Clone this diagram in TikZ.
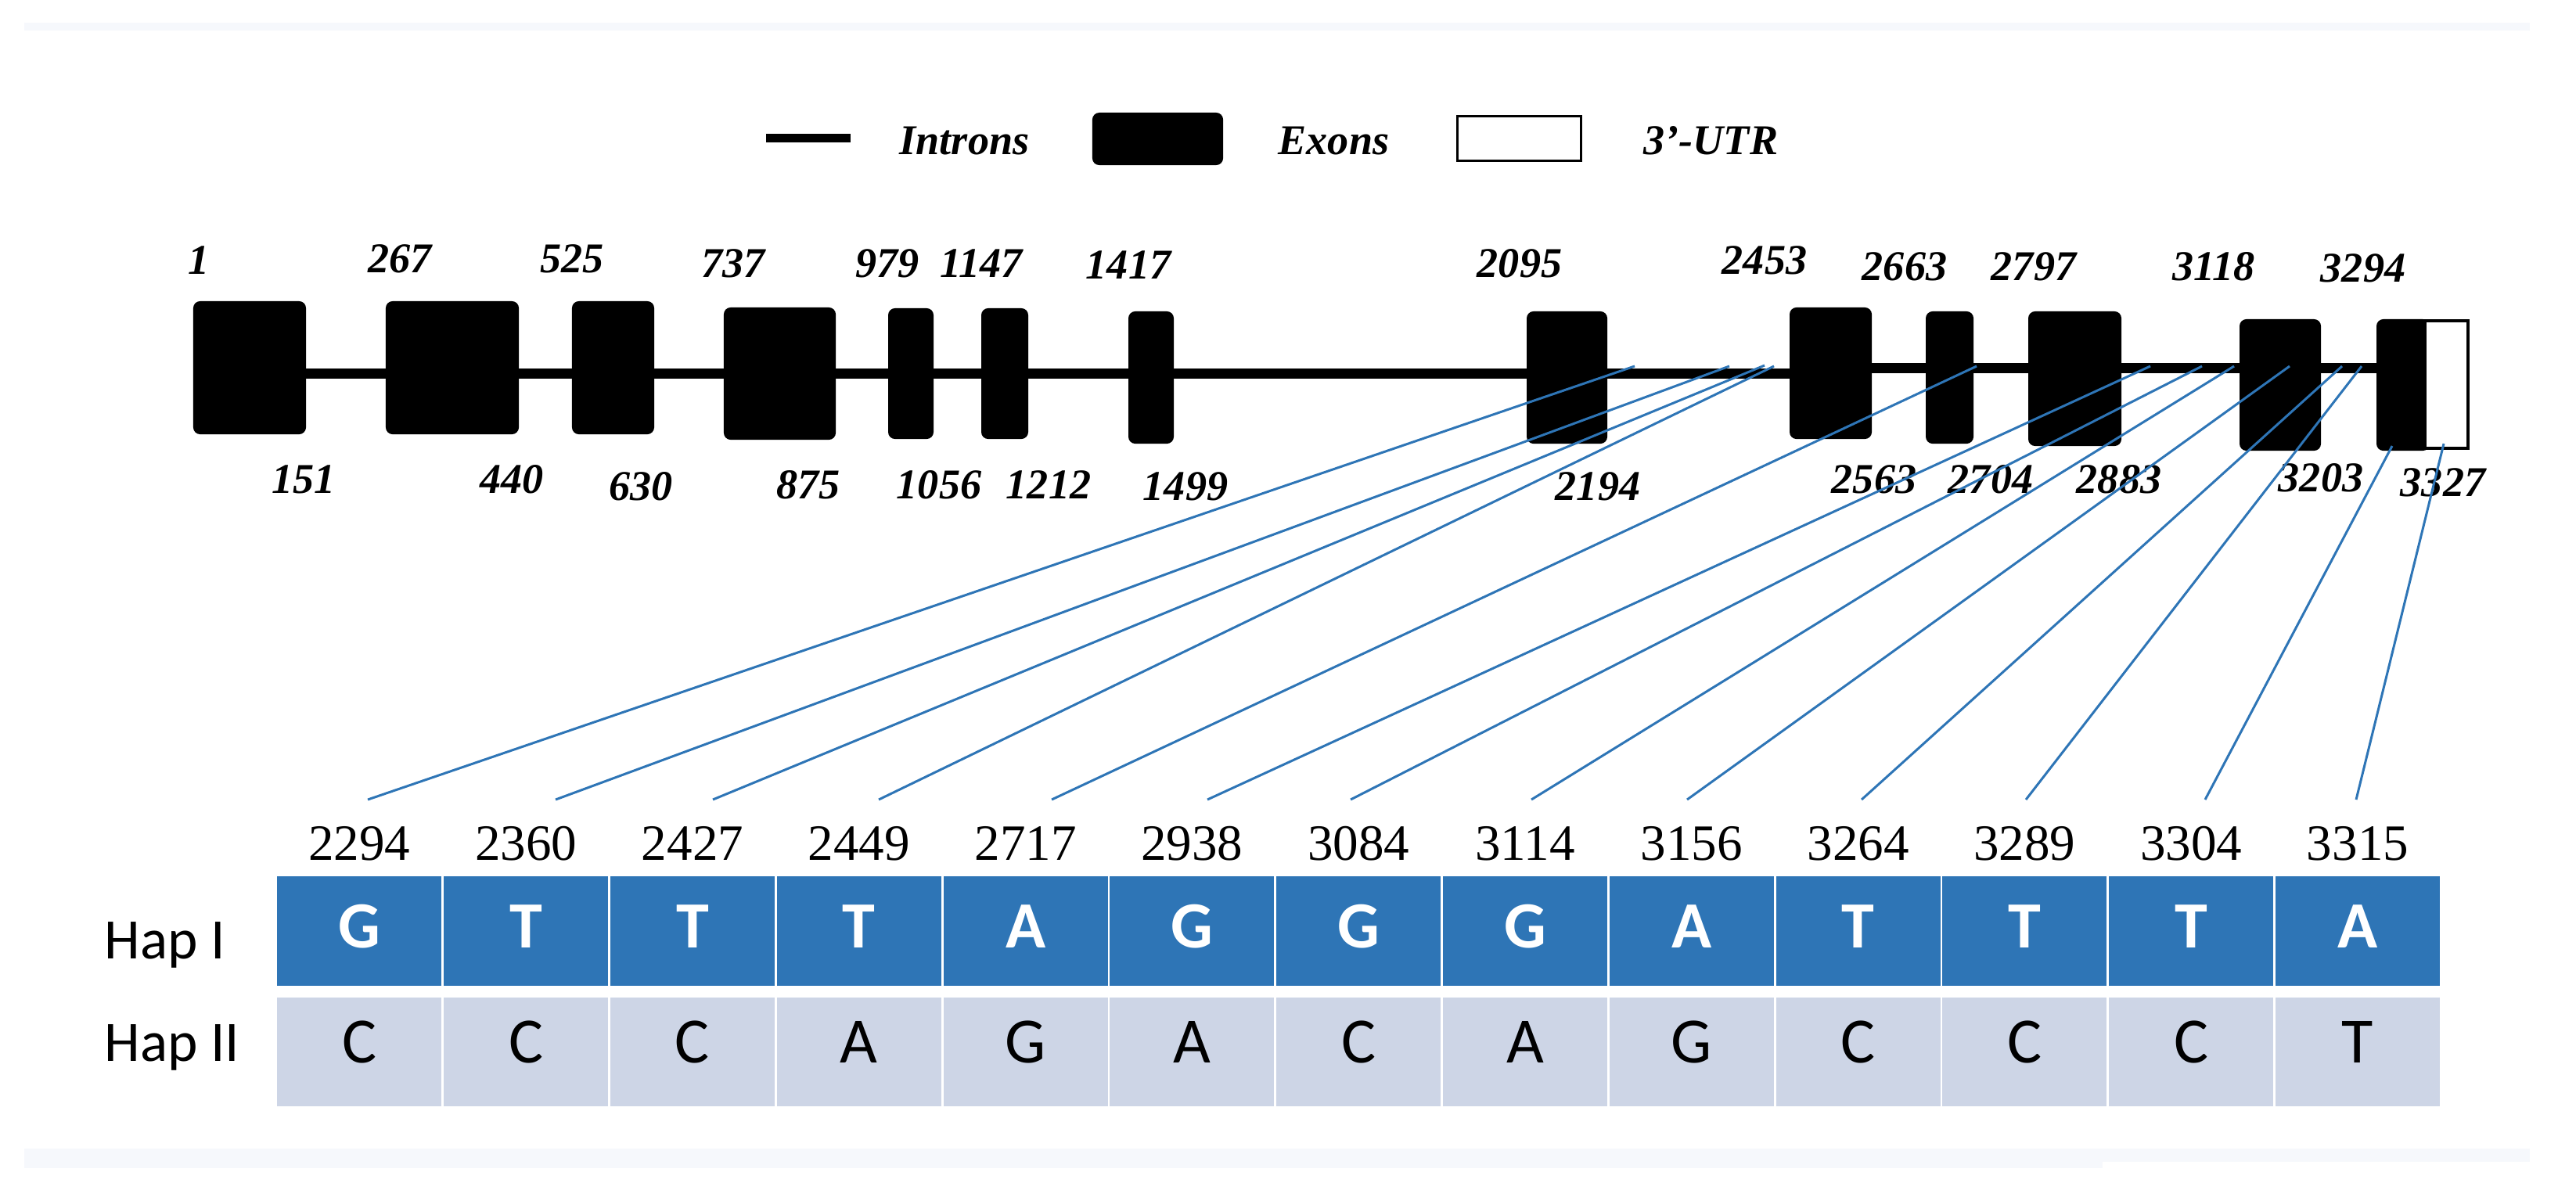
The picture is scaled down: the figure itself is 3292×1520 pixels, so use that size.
\documentclass[tikz,border=0pt]{standalone}
\usepackage{fontspec}
\setmainfont{Liberation Serif}
\newfontfamily\calib{Carlito}
\usetikzlibrary{backgrounds}
\definecolor{hapblue}{HTML}{2E75B6}
\definecolor{haplight}{HTML}{CDD5E6}
\definecolor{faintband}{HTML}{F6F8FC}
\begin{document}
\begin{tikzpicture}[x=0.01cm,y=-0.01cm,
  exonbox/.style={fill=black, draw=none, rounded corners=2.5pt, inner sep=0pt, outer sep=0pt},
  utrbox/.style={fill=white, draw=black, line width=0.045cm, inner sep=0pt},
  intron/.style={line width=0.13cm},
  glabel/.style={font=\fontsize{15.4}{18}\selectfont\bfseries\itshape, inner sep=0pt},
  poslabel/.style={font=\fontsize{18.5}{22}\selectfont, inner sep=0pt, anchor=base},
  haplabel/.style={font=\calib\fontsize{20.8}{24}\selectfont, inner sep=0pt, anchor=base west},
  cellA/.style={fill=hapblue, minimum width=2.098cm, minimum height=1.40cm, inner sep=0pt},
  cellB/.style={fill=haplight, minimum width=2.098cm, minimum height=1.39cm, inner sep=0pt},
  letterA/.style={text=white, font=\calib\bfseries\fontsize{24}{28}\selectfont, inner sep=0pt, anchor=base},
  letterB/.style={text=black, font=\calib\fontsize{23.5}{28}\selectfont, inner sep=0pt, anchor=base},
  snp/.style={draw=hapblue, line width=0.03cm}
]
\path[use as bounding box] (0,0) rectangle (3292,1520);
% faint bands
\fill[faintband] (31,29) rectangle (3233,39);
\fill[faintband] (31,1468) rectangle (2687,1493);
\fill[faintband] (2687,1468) rectangle (3233,1485);

% legend
\coordinate (lgA) at (979,176);
\coordinate (lgB) at (1087,176);
\draw[line width=0.11cm] (lgA) -- (lgB);
\node[glabel, anchor=base west] (tIntron) at (1149,197) {Introns};
\node[exonbox, minimum width=1.67cm, minimum height=0.67cm] (lgExon) at (1479.5,177.5) {};
\node[glabel, anchor=base west] (tExon) at (1633,197) {Exons};
\node[utrbox, line width=0.03cm, minimum width=1.58cm, minimum height=0.57cm] (lgUtr) at (1941.5,177) {};
\node[glabel, anchor=base west] (tUtr) at (2100,197) {3’-UTR};

% exons
\node[exonbox, minimum width=1.44cm, minimum height=1.70cm] (e1) at (319,470) {};
\node[exonbox, minimum width=1.70cm, minimum height=1.70cm] (e2) at (578,470) {};
\node[exonbox, minimum width=1.05cm, minimum height=1.70cm] (e3) at (783.5,470) {};
\node[exonbox, minimum width=1.43cm, minimum height=1.69cm] (e4) at (996.5,477.5) {};
\node[exonbox, minimum width=0.58cm, minimum height=1.67cm] (e5) at (1164,477.5) {};
\node[exonbox, minimum width=0.60cm, minimum height=1.67cm] (e6) at (1284,477.5) {};
\node[exonbox, minimum width=0.58cm, minimum height=1.69cm] (e7) at (1471,482.5) {};
\node[exonbox, minimum width=1.03cm, minimum height=1.69cm] (e8) at (2002.5,482.5) {};
\node[exonbox, minimum width=1.05cm, minimum height=1.68cm] (e9) at (2339.5,477) {};
\node[exonbox, minimum width=0.61cm, minimum height=1.69cm] (e10) at (2491.5,482.5) {};
\node[exonbox, minimum width=1.19cm, minimum height=1.72cm] (e11) at (2651.5,484) {};
\node[exonbox, minimum width=1.04cm, minimum height=1.68cm] (e12) at (2914,492) {};
\node[exonbox, minimum width=0.68cm, minimum height=1.68cm] (e13) at (3071,492) {};
\node[utrbox, minimum width=0.55cm, minimum height=1.63cm] (utr) at (3126.5,491.5) {};

% introns
\coordinate (yL) at (0,477);
\coordinate (yR) at (0,470);
\begin{scope}[on background layer]
  \draw[intron] (e1.east |- yL) -- (e9.west |- yL);
  \draw[intron] (e9.east |- yR) -- (e13.west |- yR);
\end{scope}

% top labels
\foreach \t/\x/\y in {1/254/333, 267/511/331, 525/731/331, 737/937/337, 979/1134/337,
  1147/1254/337, 1417/1442/339, 2095/1942/337, 2453/2255/333, 2663/2434/341,
  2797/2599/341, 3118/2829/341, 3294/3020/343}
  \node[glabel] (top\t) at (\x,\y) {\t};
% bottom labels
\foreach \t/\x/\y in {151/388/613, 440/654/613, 630/819/622, 875/1033/620, 1056/1200/620,
  1212/1340/620, 1499/1515/622, 2194/2042/622, 2563/2395/613, 2704/2544/613,
  2883/2708/613, 3203/2966/611, 3327/3122/617}
  \node[glabel] (bot\t) at (\x,\y) {\t};

% table
\node[haplabel] (hap1) at (133,1225) {Hap I};
\node[haplabel] (hap2) at (133,1356) {Hap II};
\foreach \i/\a/\b/\p in {0/G/C/2294, 1/T/C/2360, 2/T/C/2427, 3/T/A/2449, 4/A/G/2717,
  5/G/A/2938, 6/G/C/3084, 7/G/A/3114, 8/A/G/3156, 9/T/C/3264, 10/T/C/3289,
  11/T/C/3304, 12/A/T/3315} {
  \pgfmathsetmacro\cx{353+212.8*(\i+0.5)}
  \node[cellA] (ca\i) at (\cx,1190) {};
  \node[cellB] (cb\i) at (\cx,1344.5) {};
  \node[letterA] (la\i) at (\cx,1211) {\a};
  \node[letterB] (lb\i) at (\cx,1358) {\b};
  \node[poslabel] (pos\i) at (\cx,1099) {\p};
}

% SNP connectors
\foreach \i/\tx/\ty/\bx in {1/2089/468/470, 2/2210/468/710, 3/2255/467/911, 4/2267/468/1123,
  5/2526/468/1344, 6/2748/468/1543, 7/2814/468/1726, 8/2855/468/1957, 9/2926/468/2156,
  10/2993/468/2379, 11/3018/468/2589, 12/3057/570/2818, 13/3123/567/3011} {
  \coordinate (st\i) at (\tx,\ty);
  \coordinate (sb\i) at (\bx,1022);
  \draw[snp] (st\i) -- (sb\i);
}
\end{tikzpicture}
\end{document}
